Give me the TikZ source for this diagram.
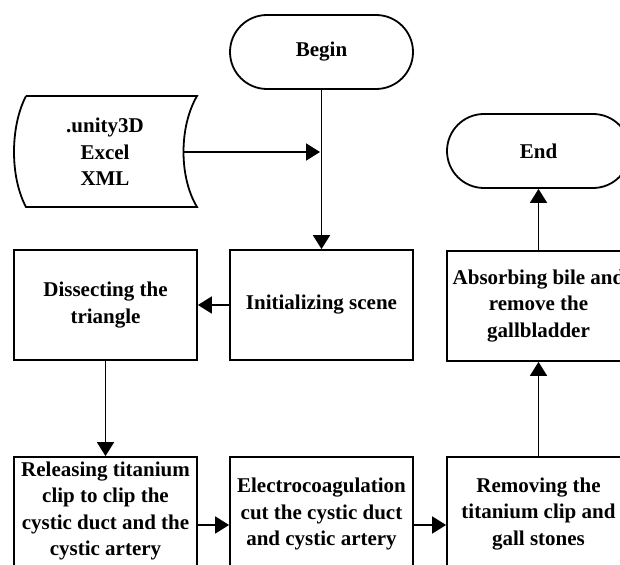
\documentclass[tikz,border=0pt]{standalone}
\usepackage{fontspec}
\setmainfont{Liberation Serif}
\usetikzlibrary{shapes.misc,arrows.meta}
\begin{document}
\begin{tikzpicture}[x=1pt,y=-1pt,
  every node/.style={font=\bfseries\fontsize{21}{26.5}\selectfont, align=center, line width=1.8pt},
  term/.style={draw, rounded rectangle, minimum width=183pt, minimum height=74pt, inner sep=0pt},
  proc/.style={draw, rectangle, minimum width=183pt, minimum height=110pt, inner sep=0pt},
  arr/.style={line width=1.8pt, -{Triangle[length=14pt,width=17pt]}}]
\clip (0,0) rectangle (620,564);
\fill[white] (0,0) rectangle (620,564);
% data shape
\draw[line width=1.8pt] (26,96) -- (197,96) .. controls (179,127) and (179,177) .. (197,207)
  -- (26,207) .. controls (10,177) and (10,127) .. (26,96);
\node (data) at (105,152) {.unity3D\\Excel\\XML};
\coordinate (dataout) at (183.5,152);
\coordinate (j) at (320,152);
\node[term] (begin) at (321.5,52) {Begin};
\node[term] (end) at (538.5,151) {End};
\node[proc] (init) at (321.5,305) {Initializing scene};
\node[proc] (dis) at (105.5,305) {Dissecting the\\triangle};
\node[proc] (abs) at (538.5,306) {Absorbing bile and\\remove the\\gallbladder};
\node[proc, minimum height=136pt] (rel) at (105.5,525) {};
\node at (105.5,511) {Releasing titanium\\clip to clip the\\cystic duct and the\\cystic artery};
\node[proc, minimum height=136pt] (ele) at (321.5,525) {};
\node at (321.5,514) {Electrocoagulation\\cut the cystic duct\\and cystic artery};
\node[proc, minimum height=136pt] (rem) at (538.5,525) {};
\node at (538.5,514) {Removing the\\titanium clip and\\gall stones};
\draw[arr] (begin.south) -- (init.north);
\draw[arr] (dataout) -- (j);
\draw[arr] (init.west) -- (dis.east);
\draw[arr] (dis.south) -- (rel.north);
\draw[arr] (rel.east) -- (ele.west);
\draw[arr] (ele.east) -- (rem.west);
\draw[arr] (rem.north) -- (abs.south);
\draw[arr] (abs.north) -- (end.south);
\end{tikzpicture}
\end{document}
